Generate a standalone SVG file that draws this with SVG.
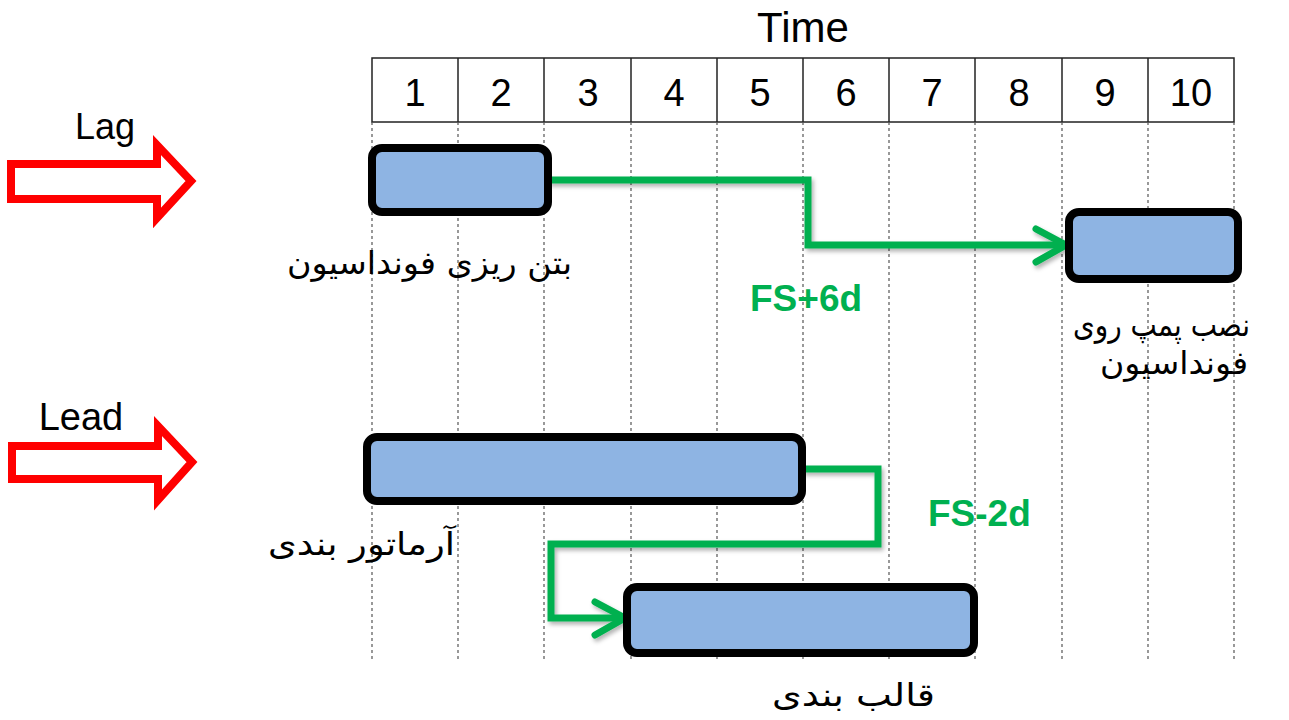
<svg xmlns="http://www.w3.org/2000/svg" width="1289" height="720" viewBox="0 0 1289 720">
<defs>
<style>
.lbl{font-family:"Liberation Sans",Arial,sans-serif;font-size:38px;fill:#000;text-anchor:middle}
.fa{font-family:"DejaVu Sans","Noto Sans",sans-serif;font-size:32px;fill:#000}
.grn{font-family:"Liberation Sans",Arial,sans-serif;font-size:37px;font-weight:bold;fill:#00B050}
.cell{fill:#fff;stroke:#222;stroke-width:1.5}
.grid{stroke:#555;stroke-width:1.2;stroke-dasharray:3 3}
.bar{fill:#8EB4E3;stroke:#000;stroke-width:8}
.red{fill:#fff;stroke:#FF0000;stroke-width:8;stroke-linejoin:miter}
.conn{fill:none;stroke:#00B050;stroke-width:7;stroke-linejoin:miter}
.head{fill:none;stroke:#00B050;stroke-width:7;stroke-linecap:round;stroke-linejoin:round}
</style>
<filter id="sh" x="-10%" y="-10%" width="120%" height="130%">
<feDropShadow dx="2" dy="3" stdDeviation="2" flood-color="#000" flood-opacity="0.3"/>
</filter>
</defs>
<rect width="1289" height="720" fill="#fff"/>
<g id="header">
<text class="lbl" x="803" y="42" style="font-size:42px">Time</text>
<rect class="cell" x="372" y="58" width="862" height="64"/>
<g stroke="#222" stroke-width="1.5">
<line x1="458" y1="58" x2="458" y2="122"/><line x1="544" y1="58" x2="544" y2="122"/>
<line x1="631" y1="58" x2="631" y2="122"/><line x1="717" y1="58" x2="717" y2="122"/>
<line x1="803" y1="58" x2="803" y2="122"/><line x1="889" y1="58" x2="889" y2="122"/>
<line x1="975" y1="58" x2="975" y2="122"/><line x1="1062" y1="58" x2="1062" y2="122"/>
<line x1="1148" y1="58" x2="1148" y2="122"/>
</g>
<text class="lbl" x="415" y="106">1</text><text class="lbl" x="501" y="106">2</text>
<text class="lbl" x="588" y="106">3</text><text class="lbl" x="674" y="106">4</text>
<text class="lbl" x="760" y="106">5</text><text class="lbl" x="846" y="106">6</text>
<text class="lbl" x="932" y="106">7</text><text class="lbl" x="1019" y="106">8</text>
<text class="lbl" x="1105" y="106">9</text><text class="lbl" x="1191" y="106">10</text>
</g>
<g id="grid">
<line class="grid" x1="372" y1="122" x2="372" y2="662"/><line class="grid" x1="458" y1="122" x2="458" y2="662"/>
<line class="grid" x1="544" y1="122" x2="544" y2="662"/><line class="grid" x1="631" y1="122" x2="631" y2="662"/>
<line class="grid" x1="717" y1="122" x2="717" y2="662"/><line class="grid" x1="803" y1="122" x2="803" y2="662"/>
<line class="grid" x1="889" y1="122" x2="889" y2="662"/><line class="grid" x1="975" y1="122" x2="975" y2="662"/>
<line class="grid" x1="1062" y1="122" x2="1062" y2="662"/><line class="grid" x1="1148" y1="122" x2="1148" y2="662"/>
<line class="grid" x1="1234" y1="122" x2="1234" y2="662"/>
</g>
<g id="lag">
<text class="lbl" x="105" y="139" style="font-size:36px">Lag</text>
<polygon class="red" points="11,164 157,164 157,145 191,181 157,218 157,199 11,199"/>
</g>
<g id="lead">
<text class="lbl" x="81" y="430" style="font-size:38px">Lead</text>
<polygon class="red" points="12,446 158,446 158,426 192,462 158,500 158,479 12,479"/>
</g>
<g id="connectors" filter="url(#sh)">
<path class="conn" d="M548,180 H808 V245 H1064"/>
<polyline class="head" points="1036,229 1066,245 1036,262"/>
<path class="conn" d="M802,469 H878 V544 H551 V618 H623"/>
<polyline class="head" points="595,602 625,618 595,635"/>
</g>
<g id="task1">
<rect class="bar" x="372" y="148" width="176" height="64" rx="10"/>
<text class="fa" x="572" y="274" direction="rtl" text-anchor="start" textLength="285" lengthAdjust="spacingAndGlyphs">بتن ریزی فونداسیون</text>
</g>
<g id="task2">
<rect class="bar" x="1069" y="212" width="169" height="67" rx="10"/>
<text class="fa" x="1250" y="336" direction="rtl" text-anchor="start" textLength="177" lengthAdjust="spacingAndGlyphs">نصب پمپ روی</text>
<text class="fa" x="1248" y="374" direction="rtl" text-anchor="start" textLength="148" lengthAdjust="spacingAndGlyphs">فونداسیون</text>
</g>
<g id="task3">
<rect class="bar" x="367" y="437" width="435" height="64" rx="10"/>
<text class="fa" x="455" y="555" direction="rtl" text-anchor="start" textLength="187" lengthAdjust="spacingAndGlyphs">آرماتور بندی</text>
</g>
<g id="task4">
<rect class="bar" x="627" y="587" width="347" height="66" rx="10"/>
<text class="fa" x="935" y="706" direction="rtl" text-anchor="start" textLength="163" lengthAdjust="spacingAndGlyphs">قالب بندی</text>
</g>
<g id="labels">
<text class="grn" x="750" y="311">FS+6d</text>
<text class="grn" x="928" y="526">FS-2d</text>
</g>
</svg>
